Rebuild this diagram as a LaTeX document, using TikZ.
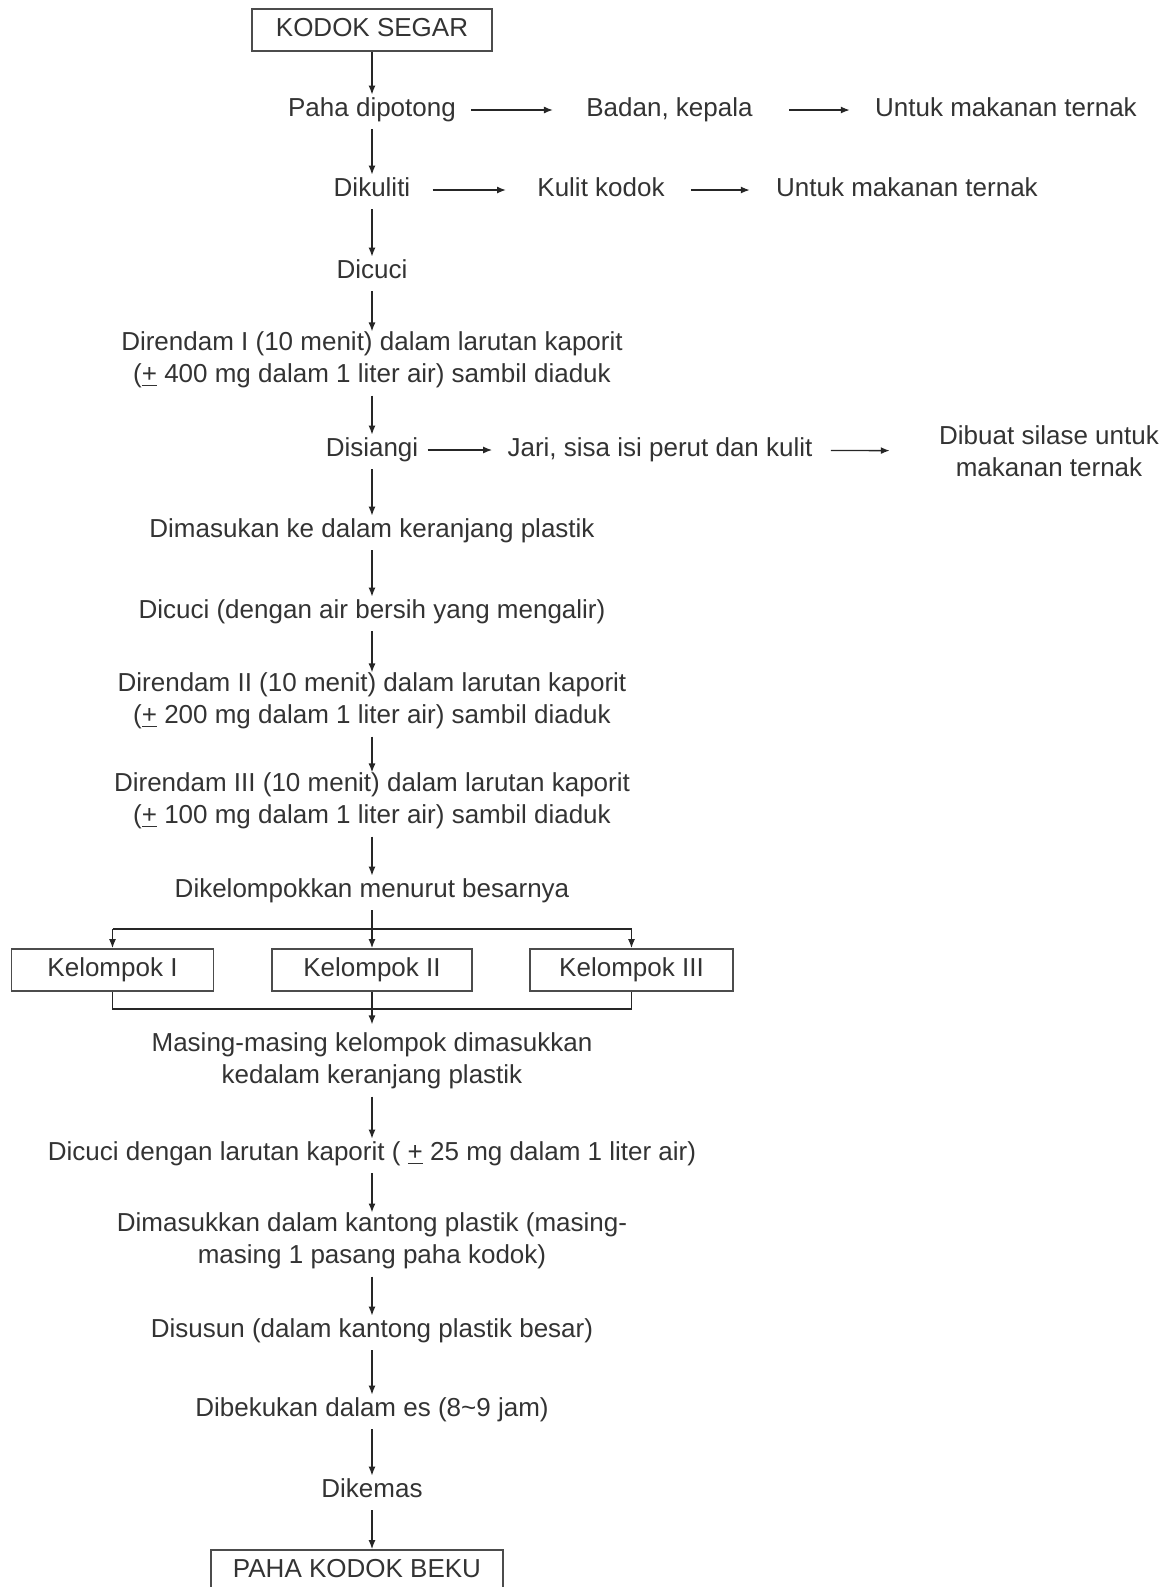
\documentclass[tikz,border=0pt]{standalone}
\usepackage{fontspec}
\setmainfont{Liberation Sans}
\usetikzlibrary{arrows.meta}

\begin{document}
\begin{tikzpicture}[
    x=0.5pt, y=-0.5pt,
    every node/.style={font=\fontsize{13}{16}\selectfont, text=black!80},
    stage/.style={inner sep=0pt, text height=9.3pt, text depth=2.7pt},
    stage2/.style={inner sep=0pt, align=center},
    frame/.style={rectangle, draw=black!70, line width=0.9pt, inner sep=0pt, text height=9.3pt, text depth=2.7pt, minimum height=21pt},
    arrow/.style={-{Latex[length=4.5pt,width=3.5pt]}, line width=0.7pt, draw=black!85},
    flow/.style={arrow, shorten <=3.5pt, shorten >=1.5pt},
    link/.style={line width=0.7pt, draw=black!85},
    gap/.style 2 args={shorten <=#1, shorten >=#2}
]
\useasboundingbox (0,0) rectangle (1165,1587);

% Main column
\node[frame, minimum width=120pt] (start) at (372,30) {KODOK SEGAR};
\node[stage] (cut) at (372,110) {Paha dipotong};
\node[stage] (skin) at (372,190) {Dikuliti};
\node[stage] (wash1) at (372,272) {Dicuci};
\node[stage2] (soak1) at (372,360) {Direndam I (10 menit) dalam larutan kaporit\\(\underline{+} 400 mg dalam 1 liter air) sambil diaduk};
\node[stage] (trim) at (372,450) {Disiangi};
\node[stage] (basket) at (372,531) {Dimasukan ke dalam keranjang plastik};
\node[stage] (wash2) at (372,612) {Dicuci (dengan air bersih yang mengalir)};
\node[stage2] (soak2) at (372,701) {Direndam II (10 menit) dalam larutan kaporit\\(\underline{+} 200 mg dalam 1 liter air) sambil diaduk};
\node[stage2] (soak3) at (372,801) {Direndam III (10 menit) dalam larutan kaporit\\(\underline{+} 100 mg dalam 1 liter air) sambil diaduk};
\node[stage] (group) at (372,891) {Dikelompokkan menurut besarnya};

% Groups
\node[frame, minimum width=101pt] (kel1) at (112.5,970) {Kelompok I};
\node[frame, minimum width=100pt] (kel2) at (372,970) {Kelompok II};
\node[frame, minimum width=101.5pt] (kel3) at (631.5,970) {Kelompok III};
\coordinate (split) at (372,929);
\coordinate (merge) at (372,1009);

\node[stage2] (pack) at (372,1061) {Masing-masing kelompok dimasukkan\\kedalam keranjang plastik};
\node[stage] (wash3) at (372,1154) {Dicuci dengan larutan kaporit ( \underline{+} 25 mg dalam 1 liter air)};
\node[stage2] (bag) at (372,1241) {Dimasukkan dalam kantong plastik (masing-\\masing 1 pasang paha kodok)};
\node[stage] (stack) at (372,1331) {Disusun (dalam kantong plastik besar)};
\node[stage] (freeze) at (372,1410) {Dibekukan dalam es (8\textasciitilde9 jam)};
\node[stage] (wrap) at (372,1491) {Dikemas};
\node[frame, minimum width=146pt] (finish) at (357,1571) {PAHA KODOK BEKU};

% Side products
\node[stage] (body) at (669.5,110) {Badan, kepala};
\node[stage] (feed1) at (1006,110) {Untuk makanan ternak};
\node[stage] (hide) at (601,190) {Kulit kodok};
\node[stage] (feed2) at (907,190) {Untuk makanan ternak};
\node[stage] (waste) at (660,450) {Jari, sisa isi perut dan kulit};
\node[stage2] (silage) at (1049,451) {Dibuat silase untuk\\makanan ternak};

% Arrows
\draw[flow, shorten <=0pt] (start) -- (cut);
\draw[flow] (cut) -- (skin);
\draw[flow] (skin) -- (wash1);
\draw[flow, shorten >=0pt] (wash1) -- (soak1);
\draw[flow] (soak1) -- (trim);
\draw[flow] (trim) -- (basket);
\draw[flow] (basket) -- (wash2);
\draw[flow, shorten >=0pt] (wash2) -- (soak2);
\draw[flow, shorten >=0pt] (soak2) -- (soak3);
\draw[flow] (soak3) -- (group);
\draw[flow, shorten >=0pt] (group) -- (kel2);
\draw[link] (kel1.north |- split) -- (kel3.north |- split);
\draw[arrow] (kel1.north |- split) -- (kel1.north);
\draw[arrow] (kel3.north |- split) -- (kel3.north);
\draw[link] (kel1.south) -- (kel1.south |- merge) -- (kel3.south |- merge) -- (kel3.south);
\draw[flow, shorten <=0pt, shorten >=4pt] (kel2) -- (pack);
\draw[flow] (pack) -- (wash3);
\draw[flow, shorten >=0pt] (wash3) -- (bag);
\draw[flow] (bag) -- (stack);
\draw[flow] (stack) -- (freeze);
\draw[flow] (freeze) -- (wrap);
\draw[flow, shorten >=0pt] (wrap) -- (wrap |- finish.north);

\draw[arrow, gap={7.5pt}{16.5pt}] (cut) -- (body);
\draw[arrow, gap={18pt}{12.5pt}] (body) -- (feed1);
\draw[arrow, gap={11pt}{15.5pt}] (skin) -- (hide);
\draw[arrow, gap={13pt}{13pt}] (hide) -- (feed2);
\draw[arrow, gap={4.5pt}{7.5pt}] (trim) -- (waste);
\draw[arrow, gap={9pt}{24.5pt}] (waste) -- (silage);

\end{tikzpicture}
\end{document}
